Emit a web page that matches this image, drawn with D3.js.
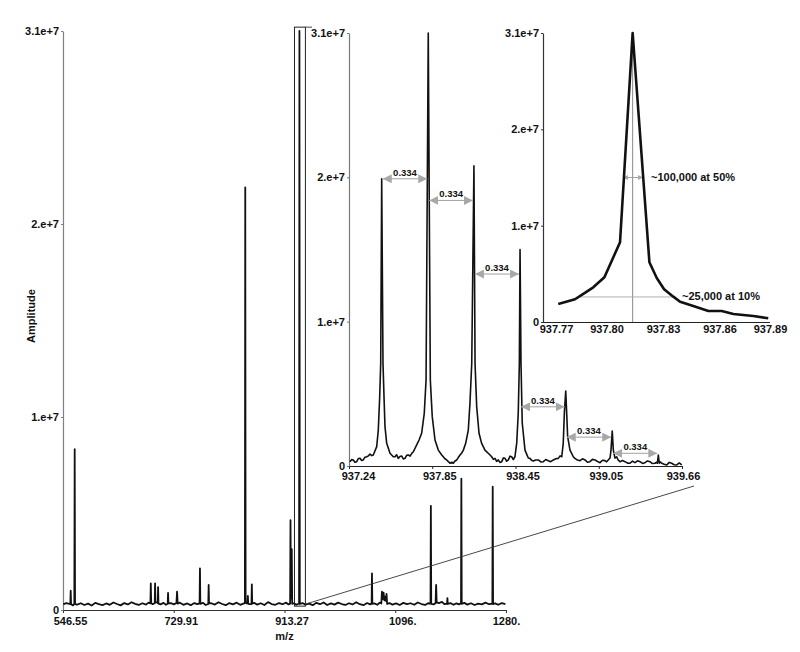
<!DOCTYPE html>
<html>
<head>
<meta charset="utf-8">
<script src="https://d3js.org/d3.v7.min.js"></script>
<style>
  body { margin: 0; background: #fff; }
  svg text { font-family: "Liberation Sans", Arial, sans-serif; font-weight: bold; fill: #111; }
</style>
</head>
<body>
<svg id="chart" width="800" height="652"></svg>
<script>
// ---------- data ----------
var yTickValues = [0, 1e7, 2e7, 3e7];
var yTickLabels = ["0", "1.e+7", "2.e+7", "3.1e+7"];

var mainTickValues = [546.55, 729.91, 913.27, 1096.63, 1280];
var mainTickLabels = ["546.55", "729.91", "913.27", "1096.", "1280."];
var inset1TickValues = [937.24, 937.845, 938.45, 939.055, 939.66];
var inset1TickLabels = ["937.24", "937.85", "938.45", "939.05", "939.66"];
var inset2TickValues = [937.77, 937.80, 937.83, 937.86, 937.89];
var inset2TickLabels = ["937.77", "937.80", "937.83", "937.86", "937.89"];

// full scan: baseline noise [m/z, amplitude]
var mainNoise = [
  [547,2.9e5],[552,3.6e5],[563,2.4e5],[570,2.8e5],[576,3.5e5],[582,2.6e5],[588,3.3e5],[594,2.3e5],
  [600,3.7e5],[606,3.0e5],[612,2.5e5],[618,3.4e5],[624,2.7e5],[630,3.9e5],[636,3.1e5],[642,2.4e5],
  [648,3.6e5],[654,2.9e5],[660,4.0e5],[666,3.2e5],[672,2.6e5],[678,3.5e5],[684,2.8e5],[688,3.8e5],
  [695,3.0e5],[702,3.9e5],[708,2.9e5],[713,3.7e5],[717,2.7e5],[725,3.6e5],[730,2.9e5],[740,3.8e5],
  [746,2.7e5],[752,3.4e5],[758,2.5e5],[764,3.6e5],[769,3.0e5],[778,3.7e5],[783,2.6e5],[792,3.5e5],
  [798,2.8e5],[804,4.0e5],[810,3.1e5],[816,2.5e5],[822,3.6e5],[828,2.9e5],[834,3.8e5],[840,2.7e5],
  [845,3.3e5],[850.5,3.4e5],[856,3.0e5],[863,3.7e5],[868,2.8e5],[874,3.5e5],[880,2.6e5],[886,4.1e5],
  [892,3.1e5],[898,2.7e5],[904,3.6e5],[910,3.0e5],[916,3.8e5],[920,2.9e5],[929,3.5e5],[933,2.7e5],
  [943,3.6e5],[948,2.8e5],[954,3.3e5],[960,2.5e5],[966,3.7e5],[972,3.0e5],[978,3.9e5],[984,2.6e5],
  [990,3.4e5],[996,2.8e5],[1002,3.8e5],[1008,3.1e5],[1014,2.6e5],[1020,3.5e5],[1026,2.9e5],[1032,4.0e5],
  [1038,3.0e5],[1044,2.5e5],[1050,3.6e5],[1055,2.9e5],[1062,3.4e5],[1067,2.7e5],[1071,3.8e5],[1087,3.6e5],
  [1092,2.8e5],[1098,3.4e5],[1104,2.6e5],[1110,3.7e5],[1116,3.0e5],[1122,3.5e5],[1128,2.7e5],[1134,3.9e5],
  [1140,3.1e5],[1146,2.6e5],[1151,3.5e5],[1160,2.9e5],[1169,3.6e5],[1174,4.2e5],[1178,3.0e5],[1188,3.6e5],
  [1193,2.7e5],[1198,3.4e5],[1202,2.9e5],[1211,3.7e5],[1216,2.8e5],[1222,3.5e5],[1228,2.6e5],[1234,3.3e5],
  [1240,2.9e5],[1246,3.8e5],[1252,3.0e5],[1262,3.4e5],[1267,2.7e5],[1273,3.6e5],[1279,3.0e5]
];

// full scan: peaks with their feet [m/z, amplitude]
var mainPeaks = [
  [558.7,3.1e5],[559.3,1.0e6],[559.9,3.0e5],
  [565.3,3.2e5],[565.9,8.33e6],[566.5,3.0e5],
  [691.3,3.4e5],[691.9,1.38e6],[692.6,3.6e5],
  [698.4,3.5e5],[699.0,1.38e6],[699.6,4.0e5],
  [703.4,3.6e5],[704.0,1.19e6],[704.6,3.3e5],
  [719.9,3.2e5],[720.5,8.8e5],[721.1,3.4e5],
  [734.4,3.6e5],[735.4,9.5e5],[736.4,3.3e5],
  [772.7,3.4e5],[773.3,2.16e6],[773.9,3.2e5],
  [787.1,3.1e5],[787.7,1.3e6],[788.3,3.4e5],
  [847.7,3.5e5],[848.3,2.19e7],[848.9,4.2e5],
  [852.0,3.6e5],[852.6,7.3e5],[853.2,3.2e5],
  [858.6,3.1e5],[859.2,1.33e6],[859.8,3.3e5],
  [922.6,3.3e5],[923.2,4.66e6],[923.9,6.0e5],[925.3,3.15e6],[926.0,3.2e5],
  [937.4,3.4e5],[938.0,3.0e7],[938.6,3.1e5],
  [1057.5,3.3e5],[1058.1,1.9e6],[1058.7,3.2e5],
  [1073.6,3.4e5],[1074.6,9.5e5],[1075.8,5.6e5],[1077.3,9.0e5],[1078.6,5.0e5],[1079.8,6.8e5],[1080.8,4.8e5],[1082.2,8.3e5],[1083.2,3.2e5],
  [1155.0,3.3e5],[1155.6,5.4e6],[1156.2,3.2e5],
  [1163.4,3.5e5],[1164.3,1.3e6],[1165.2,4.0e5],
  [1182.4,3.3e5],[1183.0,6.2e5],[1183.6,3.1e5],
  [1205.5,3.4e5],[1206.1,6.8e6],[1206.7,3.2e5],
  [1257.4,3.3e5],[1258.0,6.39e6],[1258.6,3.1e5]
];

// zoomed region marked on the full scan
var zoomMz = [929.8, 947.9];
var zoomAmp = [2.0e5, 3.02e7];

// isotope envelope (inset 1): noise and peak profiles
var inset1Noise = [
  [937.247,3.0e5],[937.259,4.4e5],[937.271,4.2e5],[937.283,2.6e5],[937.296,3.0e5],[937.308,5.2e5],[937.320,5.3e5],
  [937.332,3.9e5],[937.344,4.2e5],[937.356,6.1e5],[937.369,6.4e5],[937.381,7.0e5],[937.393,8.3e5],[937.405,7.2e5],
  [937.574,6.4e5],[937.586,7.8e5],[937.598,5.3e5],[937.610,6.6e5],[937.623,6.9e5],[937.635,4.9e5],[937.647,5.3e5],
  [937.659,7.4e5],[937.671,7.6e5],[937.684,6.9e5],[937.696,8.8e5],[937.708,9.9e5],[937.720,1.23e6],
  [937.925,6.4e5],[937.937,5.0e5],[937.950,4.2e5],[937.962,3.0e5],[937.974,1.9e5],[937.986,2.6e5],[937.998,1.9e5],
  [938.010,3.5e5],[938.023,4.2e5],[938.035,6.0e5],[938.047,7.6e5],[938.059,9.0e5],
  [938.277,6.4e5],[938.289,4.6e5],[938.301,5.3e5],[938.313,3.2e5],[938.325,4.2e5],[938.337,2.5e5],[938.350,3.0e5],
  [938.362,5.6e5],[938.374,5.3e5],[938.386,3.3e5],[938.398,4.2e5],[938.410,6.8e5],[938.422,6.4e5],[938.434,4.5e5],
  [938.555,5.3e5],[938.567,4.0e5],[938.579,3.5e5],[938.597,4.2e5],[938.616,4.2e5],[938.634,2.8e5],[938.652,3.0e5],
  [938.670,4.5e5],[938.688,3.7e5],[938.706,3.0e5],[938.725,4.2e5],[938.743,5.0e5],[938.761,5.3e5],[938.774,7.0e5],
  [938.882,5.3e5],[938.900,4.1e5],[938.919,3.7e5],[938.937,5.0e5],[938.955,4.2e5],[938.973,2.6e5],[938.991,3.0e5],
  [939.009,4.6e5],[939.028,4.2e5],[939.046,3.1e5],[939.064,2.3e5],[939.082,4.0e5],[939.100,3.7e5],[939.112,2.9e5],
  [939.124,4.2e5],
  [939.185,6.4e5],[939.197,4.0e5],[939.209,3.0e5],[939.228,3.8e5],[939.246,3.0e5],[939.264,2.0e5],[939.282,1.9e5],
  [939.300,3.4e5],[939.318,2.3e5],[939.337,3.6e5],[939.355,3.0e5],[939.373,1.8e5],[939.391,2.3e5],[939.409,3.5e5],
  [939.427,3.0e5],[939.445,1.7e5],[939.464,1.9e5],[939.475,2.6e5],
  [939.504,2.8e5],[939.513,1.9e5],[939.531,1.2e5],[939.549,0.7e5],[939.567,2.5e5],[939.585,1.9e5],[939.603,0.9e5],
  [939.622,0.7e5],[939.640,2.1e5],[939.658,0.7e5]
];
var inset1Peaks = [
  [937.4166,7.6e5],[937.4413,1.34e6],[937.4529,2.49e6],[937.4631,4.8e6],[937.4704,7.1e6],[937.4776,1.99e7],
  [937.4871,7.1e6],[937.4944,4.8e6],[937.5016,2.72e6],[937.5140,1.57e6],[937.5380,8.8e5],[937.5619,6.4e5],
  [937.732,1.46e6],[937.749,1.8e6],[937.768,2.27e6],[937.787,3.65e6],[937.800,5.96e6],[937.816,3.0e7],
  [937.831,5.96e6],[937.845,3.42e6],[937.865,1.8e6],[937.889,1.1e6],[937.914,7.6e5],
  [938.071,1.1e6],[938.088,1.57e6],[938.107,2.49e6],[938.119,4.35e6],[938.132,7.1e6],[938.148,2.08e7],
  [938.156,7.1e6],[938.168,4.1e6],[938.185,2.27e6],[938.204,1.57e6],[938.228,1.1e6],[938.265,7.6e5],
  [938.446,6.4e5],[938.459,1.6e6],[938.470,3.67e6],[938.478,7.1e6],[938.483,1.50e7],[938.490,7.1e6],
  [938.499,2.98e6],[938.519,1.1e6],[938.543,5.5e5],
  [938.786,6.4e5],[938.797,1.57e6],[938.805,3.65e6],[938.815,5.2e6],[938.822,3.67e6],[938.829,2.03e6],
  [938.846,1.1e6],[938.870,6.4e5],
  [939.137,5.5e5],[939.144,1.1e6],[939.153,2.43e6],[939.161,1.1e6],[939.173,5.5e5],
  [939.481,1.9e5],[939.488,7.6e5],[939.495,1.9e5]
];
// isotope spacing arrows: from peak, to peak, height
var spacingFrom = [937.478, 937.816, 938.148, 938.483, 938.815, 939.153];
var spacingTo = [937.816, 938.148, 938.483, 938.815, 939.153, 939.488];
var spacingAmp = [1.99e7, 1.84e7, 1.33e7, 4.1e6, 2.0e6, 8.8e5];
var spacingLabels = ["0.334", "0.334", "0.334", "0.334", "0.334", "0.334"];

// single peak (inset 2)
var inset2Spectrum = [
  [937.7781,1.87e6],[937.7870,2.36e6],[937.7914,2.91e6],[937.7967,3.6e6],[937.8026,4.64e6],[937.8109,8.28e6],
  [937.8176,3.0e7],[937.8265,6.2e6],[937.8304,4.57e6],[937.8343,3.4e6],[937.8392,2.63e6],[937.8428,2.11e6],
  [937.8498,1.66e6],[937.8578,1.14e6],[937.8649,1.14e6],[937.8711,8.3e5],[937.8817,6.2e5],[937.8896,3.8e5]
];
var apexMz = 937.8176;
var halfWidth = [937.8125, 937.8231], halfAmp = 1.5e7, halfLabel = "~100,000 at 50%";
var tenthWidth = [937.7897, 937.8385], tenthAmp = 2.6e6, tenthLabel = "~25,000 at 10%";

// ---------- drawing ----------
var svg = d3.select("#chart");

var defs = svg.append("defs");
function addMarker(id, size) {
    defs.append("marker")
        .attr("id", id)
        .attr("viewBox", "0 0 10 10")
        .attr("refX", 10)
        .attr("refY", 5)
        .attr("markerUnits", "userSpaceOnUse")
        .attr("markerWidth", size)
        .attr("markerHeight", size)
        .attr("orient", "auto-start-reverse")
        .append("path")
        .attr("d", "M0,0L10,5L0,10Z")
        .attr("fill", "#a8a8a8");
}
addMarker("arrowBig", 9);
addMarker("arrowSmall", 5);

function drawAxes(x, y, xVals, xLabels, o) {
    var gx = svg.append("g")
        .attr("transform", "translate(0," + y.range()[0] + ")")
        .call(d3.axisBottom(x)
            .tickValues(xVals)
            .tickSize(o.xTick)
            .tickSizeOuter(0)
            .tickPadding(o.xPad)
            .tickFormat(function (d, i) { return xLabels[i]; }));
    gx.select(".domain").attr("stroke", o.xColor).attr("stroke-width", 1.2);
    gx.selectAll(".tick line").attr("stroke", o.xColor);
    gx.selectAll(".tick text")
        .attr("font-size", 11)
        .attr("dx", function (d, i) { return i === xVals.length - 1 ? o.lastDx : (i === 0 ? o.firstDx : 7); });

    var gy = svg.append("g")
        .attr("transform", "translate(" + x.range()[0] + ",0)")
        .call(d3.axisLeft(y)
            .tickValues(yTickValues)
            .tickSize(2)
            .tickSizeOuter(0)
            .tickPadding(2)
            .tickFormat(function (d, i) { return yTickLabels[i]; }));
    gy.select(".domain").attr("stroke", o.yColor).attr("stroke-width", 1.2);
    gy.selectAll(".tick line").attr("stroke", o.yColor);
    gy.selectAll(".tick text").attr("font-size", 11);
}

function drawLine(data, x, y, width) {
    var line = d3.line()
        .x(function (d) { return x(d[0]); })
        .y(function (d) { return y(d[1]); });
    svg.append("path")
        .datum(data)
        .attr("d", line)
        .attr("fill", "none")
        .attr("stroke", "#111")
        .attr("stroke-width", width)
        .attr("stroke-linejoin", "round");
}

// --- full scan ---
var xMain = d3.scaleLinear().domain([546.55, 1280]).range([63, 506]);
var yMain = d3.scaleLinear().domain([0, 3e7]).range([610, 31]);

drawAxes(xMain, yMain, mainTickValues, mainTickLabels,
    { xTick: 3, xPad: 4, xColor: "#333", yColor: "#808080", firstDx: 7, lastDx: 0 });

var mainSpectrum = mainNoise.concat(mainPeaks).sort(function (a, b) { return a[0] - b[0]; });
drawLine(mainSpectrum, xMain, yMain, 1.8);

svg.append("text")
    .attr("transform", "translate(35,316) rotate(-90)")
    .attr("text-anchor", "middle")
    .attr("font-size", 11)
    .text("Amplitude");

svg.append("text")
    .attr("x", xMain(913.27))
    .attr("y", 640)
    .attr("text-anchor", "middle")
    .attr("font-size", 11)
    .text("m/z");

// zoom box and connectors
svg.append("rect")
    .attr("x", xMain(zoomMz[0]))
    .attr("y", yMain(zoomAmp[1]))
    .attr("width", xMain(zoomMz[1]) - xMain(zoomMz[0]))
    .attr("height", yMain(zoomAmp[0]) - yMain(zoomAmp[1]))
    .attr("fill", "none")
    .attr("stroke", "#222")
    .attr("stroke-width", 1);

// --- inset 1: isotope envelope ---
var x1 = d3.scaleLinear().domain([937.24, 939.66]).range([349, 682]);
var y1 = d3.scaleLinear().domain([0, 3e7]).range([466, 33]);

svg.append("line")
    .attr("x1", xMain(zoomMz[1])).attr("y1", yMain(zoomAmp[1]))
    .attr("x2", x1.range()[0] - 37).attr("y2", yMain(zoomAmp[1]))
    .attr("stroke", "#333").attr("stroke-width", 0.9);
svg.append("line")
    .attr("x1", xMain(zoomMz[1])).attr("y1", yMain(zoomAmp[0]) - 2)
    .attr("x2", x1.range()[1] + 12).attr("y2", y1.range()[0] + 20)
    .attr("stroke", "#333").attr("stroke-width", 0.9);

drawAxes(x1, y1, inset1TickValues, inset1TickLabels,
    { xTick: 3, xPad: 3, xColor: "#222", yColor: "#777", firstDx: 9, lastDx: 1 });

var inset1Spectrum = inset1Noise.concat(inset1Peaks).sort(function (a, b) { return a[0] - b[0]; });
drawLine(inset1Spectrum, x1, y1, 1.6);

var arrows = svg.append("g");
spacingFrom.forEach(function (mz, i) {
    arrows.append("line")
        .attr("x1", x1(mz) + 1)
        .attr("x2", x1(spacingTo[i]) - 1)
        .attr("y1", y1(spacingAmp[i]))
        .attr("y2", y1(spacingAmp[i]))
        .attr("stroke", "#a0a0a0")
        .attr("stroke-width", 1)
        .attr("marker-start", "url(#arrowBig)")
        .attr("marker-end", "url(#arrowBig)");
    arrows.append("text")
        .attr("x", (x1(mz) + x1(spacingTo[i])) / 2)
        .attr("y", y1(spacingAmp[i]) - 3)
        .attr("text-anchor", "middle")
        .attr("font-size", 9.5)
        .text(spacingLabels[i]);
});

// --- inset 2: single peak ---
var x2 = d3.scaleLinear().domain([937.77, 937.89]).range([543, 769]);
var y2 = d3.scaleLinear().domain([0, 3e7]).range([322, 33]);

drawAxes(x2, y2, inset2TickValues, inset2TickLabels,
    { xTick: 1, xPad: 2, xColor: "#222", yColor: "#333", firstDx: 13, lastDx: 1 });

svg.append("line")
    .attr("x1", x2(apexMz)).attr("x2", x2(apexMz))
    .attr("y1", y2(3e7)).attr("y2", y2(0))
    .attr("stroke", "#8a8a8a").attr("stroke-width", 1);

svg.append("line")
    .attr("x1", x2(halfWidth[0])).attr("x2", x2(halfWidth[1]))
    .attr("y1", y2(halfAmp)).attr("y2", y2(halfAmp))
    .attr("stroke", "#a0a0a0").attr("stroke-width", 1)
    .attr("marker-start", "url(#arrowSmall)")
    .attr("marker-end", "url(#arrowSmall)");
svg.append("text")
    .attr("x", x2(halfWidth[1]) + 8)
    .attr("y", y2(halfAmp))
    .attr("dy", "0.35em")
    .attr("font-size", 11)
    .text(halfLabel);

svg.append("line")
    .attr("x1", x2(tenthWidth[0])).attr("x2", x2(tenthWidth[1]))
    .attr("y1", y2(tenthAmp)).attr("y2", y2(tenthAmp))
    .attr("stroke", "#b0b0b0").attr("stroke-width", 1);
svg.append("text")
    .attr("x", x2(tenthWidth[1]) + 10)
    .attr("y", y2(tenthAmp))
    .attr("dy", "0.3em")
    .attr("font-size", 11)
    .text(tenthLabel);

drawLine(inset2Spectrum, x2, y2, 2.6);
</script>
</body>
</html>
